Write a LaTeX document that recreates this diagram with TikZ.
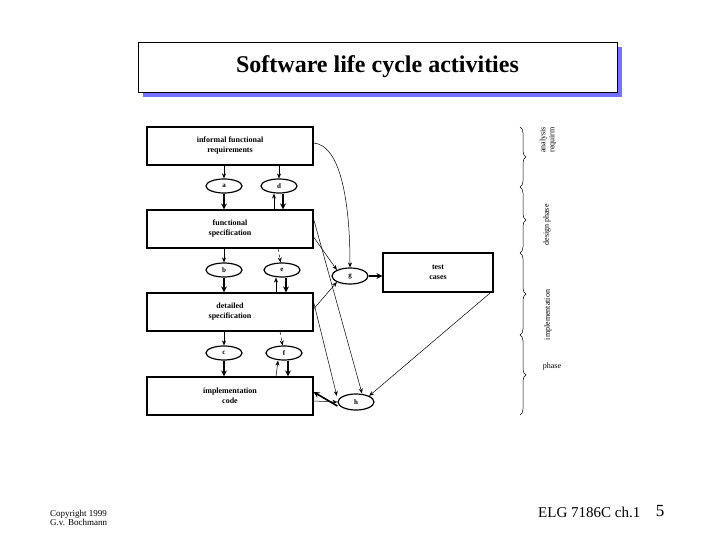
\documentclass[tikz,border=0pt]{standalone}
\usepackage{fontspec}
\setmainfont{Liberation Serif}
\usetikzlibrary{arrows.meta,decorations.pathreplacing,shapes.geometric}
\begin{document}
\begin{tikzpicture}[x=1pt,y=-1pt,
 box/.style={draw,line width=1.2pt,minimum width=166pt,minimum height=38pt,font=\bfseries\fontsize{8}{10}\selectfont,align=center,inner sep=0},
 ell/.style={draw,ellipse,line width=1.2pt,minimum width=36pt,minimum height=14pt,inner sep=0,font=\bfseries\fontsize{7}{7}\selectfont},
 arr/.style={-{Stealth[length=5pt,width=4pt]},line width=0.5pt},
 dbl/.style={-{Stealth[length=6pt,width=6pt]},line width=1.6pt},
 lab/.style={font=\fontsize{8}{9}\selectfont,align=center}]
\useasboundingbox (0,0) rectangle (720,540);
\fill[blue!55] (143,47) rectangle (622,97);
\node[draw,fill=white,line width=0.8pt,minimum width=479pt,minimum height=50pt,inner sep=0,font=\fontsize{24}{26}\selectfont\bfseries] (title) at (377.5,67) {Software life cycle activities};
\node[box] (ifr) at (230,146) {informal functional\\requirements};
\node[box] (fs) at (230,229) {functional\\specification};
\node[box] (ds) at (230,312) {detailed\\specification};
\node[box] (ic) at (230,396) {implementation\\code};
\node[box,minimum width=110pt,minimum height=39pt] (tc) at (438,272.5) {test\\cases};
\node[ell] (a) at (224,186) {a};
\node[ell] (d) at (279,186) {d};
\node[ell] (b) at (224,270) {b};
\node[ell] (e) at (282,270) {e};
\node[ell] (c) at (224,353) {c};
\node[ell] (f) at (284,353) {f};
\node[ell,minimum height=16pt] (g) at (350,276) {g};
\node[ell,minimum height=16pt] (h) at (356,402) {h};
\draw[arr] (ifr.south-|a) -- (a);
\draw[arr] (ifr.south-|d) -- (d);
\draw[arr] (fs.south-|b) -- (b);
\draw[arr] (ds.south-|c) -- (c);
\draw[arr,dashed] ([xshift=-4pt]fs.south-|e) -- (e);
\draw[arr,dashed] ([xshift=-4pt]ds.south-|f) -- (f);
\draw[dbl] (a) -- (fs.north-|a);
\draw[dbl] (b) -- (ds.north-|b);
\draw[dbl] (c) -- (ic.north-|c);
\draw[dbl] ([xshift=4pt]d.south) -- ([xshift=4pt]fs.north-|d);
\draw[dbl] ([xshift=4pt]e.south) -- ([xshift=4pt]ds.north-|e);
\draw[dbl] ([xshift=4pt]f.south) -- ([xshift=4pt]ic.north-|f);
\draw[arr,line width=1pt] ([xshift=-5pt]fs.north-|d) -- ([xshift=-5pt]d.south);
\draw[arr] ([xshift=-6pt]ds.north-|e) -- ([xshift=-6pt]e.south);
\draw[arr] ([xshift=-8pt]ic.north-|f) -- ([xshift=-6pt]f.south);
\draw[arr] (ifr.east) ++(0,-3) coordinate (p1) (p1) .. controls (340,145) and (350,200) .. (g.north);
\draw[arr] ([yshift=-8pt]fs.east) -- (g.north west);
\draw[arr] ([yshift=3pt]ds.east) -- (g.south west);
\draw[dbl] (g) -- (tc.west|-g);
\draw[arr] ([yshift=10pt]fs.east) -- ([xshift=6pt]h.north);
\draw[arr] ([yshift=10pt]ds.east) -- ([xshift=-6pt]h.north west);
\draw[arr] (tc.south east) ++(-3,0) coordinate (p2) (p2) -- (h.north east);
\draw[arr] ([yshift=-5pt]ic.east) -- (h.west);
\draw[dbl] (h.west) ++(0,4) coordinate (p3) (p3) -- ([yshift=4pt]ic.east);
\begin{scope}[decoration={brace,amplitude=6pt},line width=0.5pt]
\draw[decorate] (520,127) coordinate (br1) -- (520,187) coordinate (br2);
\draw[decorate] (br2) -- (520,253) coordinate (br3);
\draw[decorate] (br3) -- (520,335) coordinate (br4);
\draw[decorate] (br4) -- (520,415) coordinate (br5);
\end{scope}
\node[lab,rotate=90,anchor=center] (l1) at (548,140) {analysis\\requirm};
\node[lab,rotate=90] (l2) at (547,225) {design phase};
\node[lab,rotate=90] (l3) at (548,315) {implementation};
\node[lab] (l4) at (552,367) {phase};
\node[font=\fontsize{9}{9}\selectfont,align=left,anchor=west,inner sep=0] (cp) at (50,518) {Copyright 1999\\G.v. Bochmann};
\node[font=\fontsize{15}{15}\selectfont,anchor=west,inner sep=0] (elg) at (538,512) {ELG 7186C ch.1};
\node[font=\fontsize{17}{17}\selectfont,inner sep=0] (pg) at (660,511) {5};
\end{tikzpicture}
\end{document}
